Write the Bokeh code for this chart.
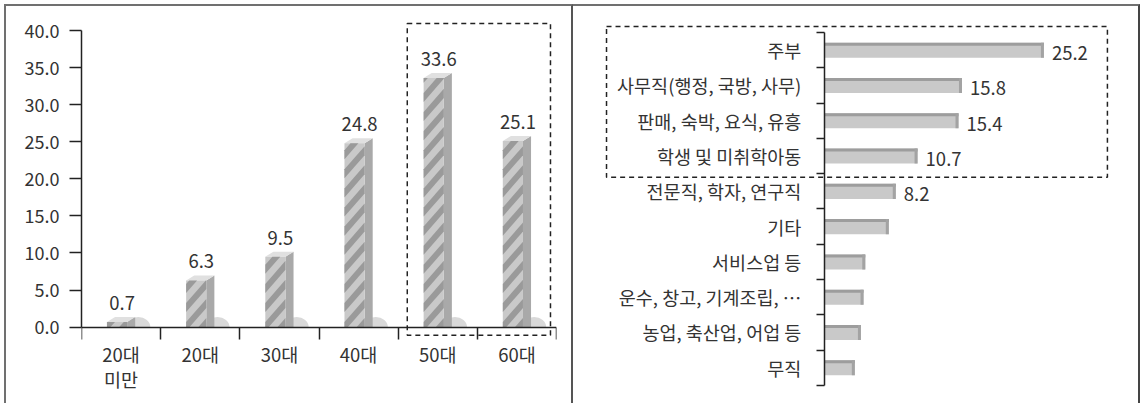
import numpy as np
from bokeh.plotting import figure
from bokeh.models import Range1d, FixedTicker, NumeralTickFormatter
from bokeh.layouts import row
from bokeh.embed import file_html
from bokeh.resources import INLINE
from bokeh.core.properties import value

# ---------------- data ----------------
age_groups = ["20대\n미만", "20대", "30대", "40대", "50대", "60대"]
age_values = [0.7, 6.3, 9.5, 24.8, 33.6, 25.1]
age_labels = ["0.7", "6.3", "9.5", "24.8", "33.6", "25.1"]
y_ticks = [0, 5, 10, 15, 20, 25, 30, 35, 40]

jobs = ["주부", "사무직(행정, 국방, 사무)", "판매, 숙박, 요식, 유흥", "학생 및 미취학아동",
        "전문직, 학자, 연구직", "기타", "서비스업 등", "운수, 창고, 기계조립, …",
        "농업, 축산업, 어업 등", "무직"]
job_values = [25.2, 15.8, 15.4, 10.7, 8.2, 7.4, 4.7, 4.5, 4.2, 3.5]
job_labels = ["25.2", "15.8", "15.4", "10.7", "8.2", "", "", "", "", ""]

FONT = "Noto Sans CJK KR"
TXT = "#333333"
AX = "#222222"
BORDER = "#707070"
DASH = "5 4"

H = 397          # canvas height (inside CSS border)
MT, FH = 14, 378  # common frame top / height for both panels (frames are aligned in a row)
MB = H - MT - FH


def clip_y(poly, lo, hi):
    """Clip a convex polygon [(x, y), ...] to lo <= y <= hi."""
    def clip(pts, keep, inter):
        out = []
        for i in range(len(pts)):
            a, b = pts[i - 1], pts[i]
            ka, kb = keep(a), keep(b)
            if kb:
                if not ka:
                    out.append(inter(a, b))
                out.append(b)
            elif ka:
                out.append(inter(a, b))
        return out

    def at(yc):
        def f(a, b):
            t = (yc - a[1]) / (b[1] - a[1])
            return (a[0] + t * (b[0] - a[0]), yc)
        return f
    pts = clip(poly, lambda p: p[1] >= lo, at(lo))
    if pts:
        pts = clip(pts, lambda p: p[1] <= hi, at(hi))
    return pts


# ---------------- left chart ----------------
W1 = 565
PXX = 471 / 6.0           # px per category
PXY = 295 / 40.0          # px per unit
Y_HI = 40 + 10 / PXY
Y_LO = Y_HI - FH / PXY
ML1 = 75
p1 = figure(width=W1 + 4, height=H + 2, x_range=Range1d(0, 6), y_range=Range1d(Y_LO, Y_HI),
            output_backend="svg", toolbar_location=None,
            min_border_left=ML1, min_border_right=W1 - ML1 - 471,
            min_border_top=MT, min_border_bottom=MB,
            styles={"border-left": f"2px solid {BORDER}", "border-top": f"2px solid {BORDER}",
                    "border-right": "2px solid #555555"},
            margin=(4, 0, 0, 4))
p1.outline_line_color = None
p1.grid.visible = False

n = len(age_values)
c = np.arange(n) + 0.5
v = np.array(age_values)
FRONT_W, SIDE_W, DEPTH = 20, 8, 5
fl = c - 14 / PXX
fr = fl + FRONT_W / PXX
sr = fr + SIDE_W / PXX
dy = DEPTH / PXY

# shadows (upper half ellipses right of each bar base)
t = np.linspace(0, np.pi, 25)
p1.patches(xs=[list(fr[i] + (11 + 12 * np.cos(t)) / PXX) for i in range(n)],
           ys=[list(10 * np.sin(t) / PXY) for i in range(n)],
           fill_color="#d9d9d9", line_color=None)
# side faces
p1.patches(xs=[[fr[i], sr[i], sr[i], fr[i]] for i in range(n)],
           ys=[[0, 0, v[i] + dy, v[i]] for i in range(n)],
           fill_color="#a9a9a9", line_color=None)
# top faces
p1.patches(xs=[[fl[i], fr[i], sr[i], fl[i] + SIDE_W / PXX] for i in range(n)],
           ys=[[v[i], v[i], v[i] + dy, v[i] + dy] for i in range(n)],
           fill_color="#e0e0e0", line_color=None)
# front faces
p1.quad(left=fl, right=fr, bottom=np.zeros(n), top=v, fill_color="#c9c9c9", line_color=None)
# diagonal stripes on front faces
SLOPE, PERIOD, BAND = 1.15, 19.0, 9.0
sx, sy = [], []
for i in range(n):
    hpx = v[i] * PXY
    b = -SLOPE * FRONT_W - PERIOD
    while b < hpx + PERIOD:
        quad_px = [(0, b), (FRONT_W, b + SLOPE * FRONT_W),
                   (FRONT_W, b + SLOPE * FRONT_W + BAND), (0, b + BAND)]
        poly = clip_y(quad_px, 0, hpx)
        if len(poly) >= 3:
            sx.append([fl[i] + px / PXX for px, _ in poly])
            sy.append([py / PXY for _, py in poly])
        b += PERIOD
p1.patches(xs=sx, ys=sy, fill_color="#9a9a9a", line_color=None)

# value labels
p1.text(x=c + 1 / PXX, y=v, text=age_labels, text_align="center", text_baseline="middle",
        y_offset=-19, text_font=value(FONT), text_font_size="18.5px", text_color=TXT)

# dashed highlight box
p1.quad(left=[4.115], right=[5.924], top=[40.95], bottom=[-1.085], fill_color=None,
        line_color=AX, line_dash=DASH, line_width=1.5)

ya = p1.yaxis[0]
ya.ticker = FixedTicker(ticks=y_ticks)
ya.formatter = NumeralTickFormatter(format="0.0")
ya.bounds = (0, 40)
ya.major_tick_out = 12
ya.major_tick_in = 0
ya.minor_tick_out = 0
ya.minor_tick_in = 0
ya.major_label_standoff = 10
for a in (p1.xaxis[0], ya):
    a.axis_line_color = AX
    a.axis_line_width = 1.5
    a.major_tick_line_color = AX
    a.major_tick_line_width = 1.5
    a.minor_tick_line_color = AX
    a.minor_tick_line_width = 1.5
    a.major_label_text_font = FONT
    a.major_label_text_color = TXT
ya.major_label_text_font_size = "18px"

xa = p1.xaxis[0]
xa.fixed_location = 0
xa.ticker = FixedTicker(ticks=list(c), minor_ticks=list(range(n + 1)))
xa.major_label_overrides = {float(c[i]): age_groups[i] for i in range(n)}
xa.major_tick_out = 0
xa.major_tick_in = 0
xa.minor_tick_out = 12
xa.minor_tick_in = 0
xa.major_label_standoff = 2
xa.major_label_text_font_size = "18.5px"
xa.major_label_text_line_height = 0.95

# ---------------- right chart ----------------
W2 = 565
PXX2 = 8.68               # px per unit
PYY = 35.1                # px per category
X_LO2 = -223 / PXX2
X_HI2 = 307 / PXX2
FW2 = int(round((X_HI2 - X_LO2) * PXX2))
Y_TOP2 = -12 / PYY
Y_BOT2 = Y_TOP2 + FH / PYY
ML2 = 27
p2 = figure(width=W2 + 2, height=H + 2, x_range=Range1d(X_LO2, X_HI2),
            y_range=Range1d(Y_BOT2, Y_TOP2),
            output_backend="svg", toolbar_location=None,
            min_border_left=ML2, min_border_right=W2 - ML2 - FW2,
            min_border_top=MT, min_border_bottom=MB,
            styles={"border-top": f"2px solid {BORDER}", "border-right": "2px solid #444444"},
            margin=(4, 0, 0, 0))
p2.outline_line_color = None
p2.grid.visible = False
p2.xaxis.visible = False

m = len(job_values)
cy = np.arange(m) + 0.5
jv = np.array(job_values)
half = 7.5 / PYY
p2.quad(left=np.zeros(m), right=jv, top=cy - half, bottom=cy + half,
        fill_color="#c9c9c9", line_color=None)
p2.quad(left=np.zeros(m), right=jv, top=cy - half, bottom=cy - half + 3 / PYY,
        fill_color="#9d9d9d", line_color=None)
p2.quad(left=jv - 3 / PXX2, right=jv, top=cy - half, bottom=cy + half,
        fill_color="#a3a3a3", line_color=None)
p2.text(x=jv + 8 / PXX2, y=cy, text=job_labels, text_align="left", text_baseline="middle",
        y_offset=3, text_font=value(FONT), text_font_size="18.5px", text_color=TXT)

p2.quad(left=[-25.0], right=[32.49], top=[-0.171], bottom=[4.103], fill_color=None,
        line_color=AX, line_dash=DASH, line_width=1.5)

ra = p2.yaxis[0]
ra.fixed_location = 0
ra.bounds = (0, 10)
ra.ticker = FixedTicker(ticks=list(cy), minor_ticks=list(range(m + 1)))
ra.major_label_overrides = {float(cy[i]): jobs[i] for i in range(m)}
ra.major_tick_out = 0
ra.major_tick_in = 0
ra.minor_tick_out = 8
ra.minor_tick_in = 0
ra.minor_tick_line_color = AX
ra.minor_tick_line_width = 1.5
ra.axis_line_color = AX
ra.axis_line_width = 1.5
ra.major_label_standoff = 15
ra.major_label_text_font = FONT
ra.major_label_text_font_size = "18.5px"
ra.major_label_text_color = TXT

layout = row(p1, p2)
open("out.html", "w").write(file_html(layout, INLINE))
